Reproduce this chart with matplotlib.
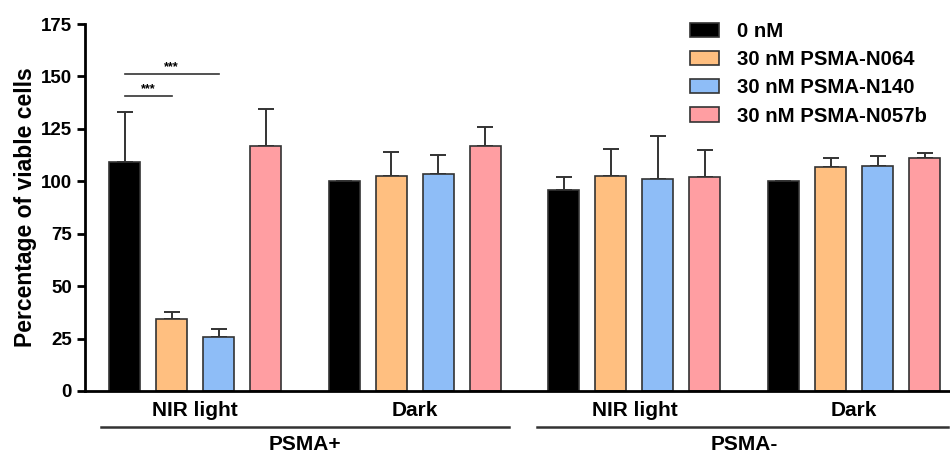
import numpy as np
import matplotlib
matplotlib.use("Agg")
import matplotlib.pyplot as plt

plt.rcParams['font.family'] = ['Liberation Sans', 'DejaVu Sans']
plt.rcParams['font.weight'] = 'bold'

# data
conditions = ["NIR light", "Dark", "NIR light", "Dark"]
cell_lines = ["PSMA+", "PSMA-"]
treatments = ["0 nM", "30 nM PSMA-N064", "30 nM PSMA-N140", "30 nM PSMA-N057b"]
colors = ["#000000", "#FFBF80", "#8EBDF7", "#FF9EA2"]

mean_0nM = [109, 100, 96, 100]
mean_n064 = [34.3, 102.3, 102.7, 107]
mean_n140 = [25.9, 103.5, 101, 107.2]
mean_n057b = [117, 117, 101.9, 111.1]

err_0nM = [24, 0, 6, 0]
err_n064 = [3.2, 11.6, 12.8, 4.3]
err_n140 = [3.7, 9, 20.5, 5]
err_n057b = [17.5, 9, 13, 2.2]

means = [mean_0nM, mean_n064, mean_n140, mean_n057b]
errs = [err_0nM, err_n064, err_n140, err_n057b]

group_step = 4.67
width = 0.66
x0 = np.arange(len(conditions)) * group_step

fig = plt.figure(figsize=(9.5, 4.54), dpi=100)
ax = fig.add_axes([0.0895, 0.1388, 0.9105, 0.8083])

for i, (m, e, c, lab) in enumerate(zip(means, errs, colors, treatments)):
    xs = x0 + i
    ax.bar(xs, m, width=width, color=c, edgecolor="#333333", linewidth=1.2,
           label=lab, zorder=2)
    ax.errorbar(xs, m, yerr=[np.zeros(len(e)), e], fmt="none", ecolor="#333333",
                elinewidth=1.4, capsize=6, capthick=1.4, zorder=1)

ax.set_xlim(-0.84, 17.55)
ax.set_ylim(0, 175)
ax.set_yticks(np.arange(0, 176, 25))
ax.set_xticks([])
ax.spines['top'].set_visible(False)
ax.spines['right'].set_visible(False)
ax.spines['left'].set_linewidth(2)
ax.spines['bottom'].set_linewidth(2)
ax.tick_params(axis='y', width=2, length=6, labelsize=13.5)
for t in ax.get_yticklabels():
    t.set_fontweight('bold')
ax.set_ylabel("Percentage of viable cells", fontsize=16.5, fontweight='bold', labelpad=3)

# significance brackets
ax.plot([0, 2], [151, 151], color="#333333", lw=1.2, clip_on=False)
ax.text(1, 151.5, "***", ha='center', va='bottom', fontsize=9)
ax.plot([0, 1], [140.7, 140.7], color="#333333", lw=1.2, clip_on=False)
ax.text(0.5, 141.2, "***", ha='center', va='bottom', fontsize=9)

# group labels below axis
trans = ax.get_xaxis_transform()
for xc, name in zip(x0 + 1.5, conditions):
    ax.text(xc, -0.054, name, transform=trans, ha='center', va='center',
            fontsize=15, fontweight='bold')
line_spans = [(-0.49, 8.17), (8.77, 17.5)]
label_x = [(x0[0] + x0[1]) / 2 + 1.5, (x0[2] + x0[3]) / 2 + 1.5]
for (a, b), xc, name in zip(line_spans, label_x, cell_lines):
    ax.plot([a, b], [-0.098, -0.098], transform=trans, color="#333333", lw=1.8,
            clip_on=False)
    ax.text(xc, -0.146, name, transform=trans, ha='center', va='center',
            fontsize=15, fontweight='bold')

ax.legend(loc='upper left', bbox_to_anchor=(0.707, 0.992), bbox_transform=fig.transFigure,
          frameon=False, handlelength=1.4, handleheight=0.7,
          labelspacing=0.45, handletextpad=0.9, prop={'weight': 'bold', 'size': 14.7})

fig.savefig("out.png", dpi=100)
